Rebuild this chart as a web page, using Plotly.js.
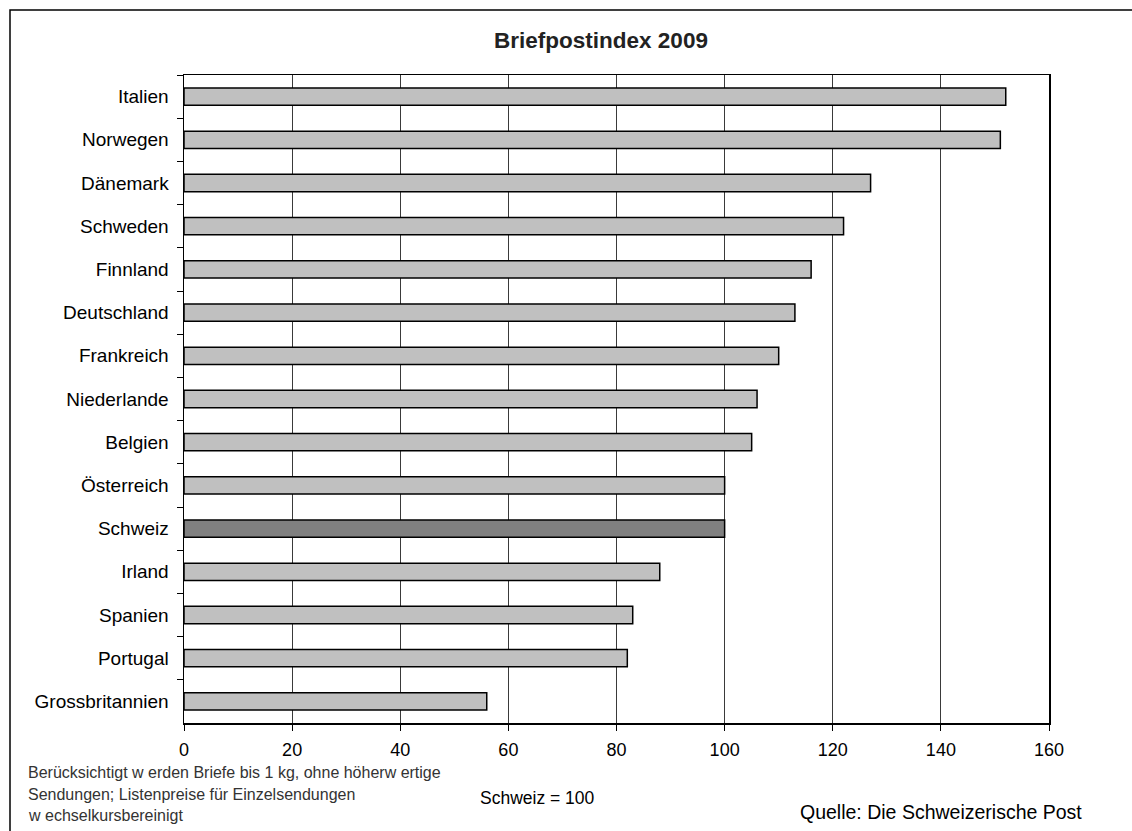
<!DOCTYPE html>
<html>
<head>
<meta charset="utf-8">
<script src="https://cdn.plot.ly/plotly-3.0.1.min.js"></script>
<style>
  html, body { margin: 0; padding: 0; background: #ffffff; }
  #chart { width: 1132px; height: 831px; }
</style>
</head>
<body>
<div id="chart"></div>
<script>
// Briefpostindex 2009 (Schweiz = 100)
const countries = [
  "Italien", "Norwegen", "Dänemark", "Schweden", "Finnland",
  "Deutschland", "Frankreich", "Niederlande", "Belgien", "Österreich",
  "Schweiz", "Irland", "Spanien", "Portugal", "Grossbritannien"
];
const indexValues = [152, 151, 127, 122, 116, 113, 110, 106, 105, 100, 100, 88, 83, 82, 56];
const xTicks = [0, 20, 40, 60, 80, 100, 120, 140, 160];
const highlight = "Schweiz";

const FONT = "Liberation Sans, Arial, sans-serif";
const W = 1132, H = 831;
const M = { l: 184, r: 83, t: 75, b: 108 };
const plotW = W - M.l - M.r;
const plotH = H - M.t - M.b;

// convert page pixels to paper coordinates
const px = x => (x - M.l) / plotW;
const py = y => (H - M.b - y) / plotH;

const barColors = countries.map(c => c === highlight ? "#808080" : "#c0c0c0");

const trace = {
  type: "bar",
  orientation: "h",
  y: countries,
  x: indexValues,
  marker: { color: barColors, line: { color: "#000000", width: 1.5 } },
  hoverinfo: "x+y"
};

const noteStyle = { family: FONT, size: 16, color: "#333333" };
const layout = {
  width: W,
  height: H,
  margin: M,
  paper_bgcolor: "#ffffff",
  plot_bgcolor: "#ffffff",
  showlegend: false,
  bargap: 0.6,
  title: {
    text: "<b>Briefpostindex 2009</b>",
    font: { family: FONT, size: 22.5, color: "#222222" },
    xref: "container", x: 601 / W, xanchor: "center",
    yref: "container", y: 1 - 40 / H, yanchor: "middle"
  },
  xaxis: {
    range: [0, 160],
    tickvals: xTicks,
    ticktext: xTicks.map(String),
    showgrid: true,
    gridcolor: "#3a3a3a",
    gridwidth: 1,
    zeroline: false,
    showline: true,
    linecolor: "#000000",
    linewidth: 1.5,
    mirror: true,
    ticks: "outside",
    ticklen: 6,
    tickcolor: "#000000",
    tickwidth: 1,
    ticklabelstandoff: 4,
    tickfont: { family: FONT, size: 18, color: "#000000" },
    fixedrange: true
  },
  yaxis: {
    type: "category",
    categoryorder: "array",
    categoryarray: countries,
    autorange: "reversed",
    showgrid: false,
    zeroline: false,
    showline: true,
    linecolor: "#000000",
    linewidth: 1.5,
    mirror: true,
    ticks: "outside",
    tickson: "boundaries",
    ticklen: 6,
    tickcolor: "#000000",
    tickwidth: 1,
    ticklabelstandoff: 10,
    tickfont: { family: FONT, size: 19, color: "#000000" },
    fixedrange: true
  },
  shapes: [
    {
      type: "rect", xref: "paper", yref: "paper",
      x0: px(10), x1: px(W + 20), y0: py(H + 20), y1: py(10),
      line: { color: "#000000", width: 1.5 }, fillcolor: "rgba(0,0,0,0)", layer: "above"
    }
  ],
  annotations: [
    { text: "Berücksichtigt w erden Briefe bis 1 kg, ohne höherw ertige",
      xref: "paper", yref: "paper", x: px(26), y: py(772), xanchor: "left", yanchor: "middle",
      showarrow: false, font: noteStyle },
    { text: "Sendungen; Listenpreise für Einzelsendungen",
      xref: "paper", yref: "paper", x: px(26), y: py(794), xanchor: "left", yanchor: "middle",
      showarrow: false, font: noteStyle },
    { text: "w echselkursbereinigt",
      xref: "paper", yref: "paper", x: px(26), y: py(815), xanchor: "left", yanchor: "middle",
      showarrow: false, font: noteStyle },
    { text: "Schweiz = 100",
      xref: "paper", yref: "paper", x: px(537), y: py(798), xanchor: "center", yanchor: "middle",
      showarrow: false, font: { family: FONT, size: 17.5, color: "#000000" } },
    { text: "Quelle: Die Schweizerische Post",
      xref: "paper", yref: "paper", x: px(1084), y: py(812), xanchor: "right", yanchor: "middle",
      showarrow: false, font: { family: FONT, size: 19.5, color: "#000000" } }
  ]
};

Plotly.newPlot("chart", [trace], layout, { displayModeBar: false, staticPlot: true });
</script>
</body>
</html>
